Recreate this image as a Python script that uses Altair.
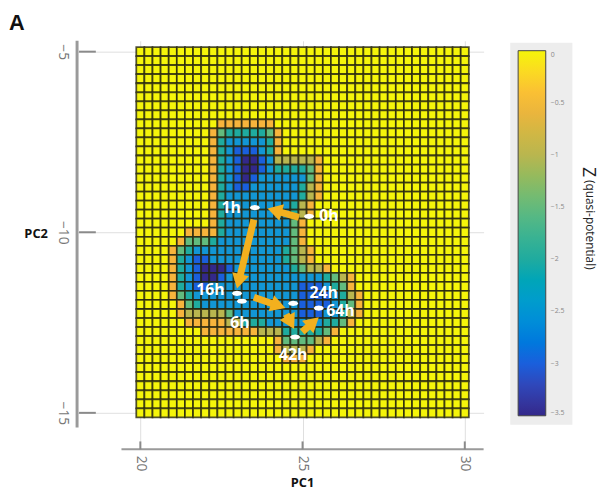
import math
import altair as alt
import pandas as pd

# ---------------- data ----------------
STEP = 0.25
PC1_GRID = [20 + STEP * i for i in range(41)]          # cell centres 20 .. 30
PC2_GRID = [-5 - STEP * j for j in range(41)]          # cell centres -5 .. -15
LEVEL_Z = [0, -0.5, -1, -1.5, -2, -2.5, -3, -3.5]      # digit in the map -> Z

# quasi-potential well, row index (from top) -> (first column, digits)
WELL_ROWS = {
    8: (10, "1111111"),
    9: (9, "1" "3" "44444" "3" "1"),
    10: (9, "1" "4" "55555" "4" "1"),
    11: (9, "1" "4" "5" "666" "5" "4" "1"),
    12: (9, "1" "4" "5" "6" "77" "6" "5" "22222" "1"),
    13: (9, "1" "4" "5" "6" "77" "6" "5" "4444" "3" "1"),
    14: (9, "1" "4" "5" "6" "7" "6" "55" "5555" "3" "1"),
    15: (9, "1" "4" "5" "66" "555555" "4" "2" "1"),
    16: (9, "1" "4" "555555555" "4" "2" "1"),
    17: (9, "1" "4" "55555555" "4" "2" "1"),
    18: (9, "1" "4" "55555555" "4" "2" "1"),
    19: (9, "1" "4" "55555555" "3" "1"),
    20: (6, "1111" "4" "55555555" "3" "1"),
    21: (5, "1" "333" "4" "555555555" "3" "1"),
    22: (4, "1" "3" "4" "55555555555" "4" "3" "2" "1"),
    23: (4, "1" "4" "5" "66" "555555555" "4" "3" "2" "1"),
    24: (4, "1" "4" "5" "6" "777" "6" "5555555" "4" "3" "22" "1"),
    25: (4, "1" "4" "5" "6" "77" "6" "555555555555" "4" "3" "2" "1"),
    26: (4, "1" "4" "5" "66" "55555555555" "666" "5" "4" "3" "1"),
    27: (4, "1" "3" "4" "5555555555555" "6666" "5" "4" "2" "1"),
    28: (5, "1" "3" "4" "555555555555" "6666" "5" "4" "3" "1"),
    29: (5, "1" "22222" "3" "55555555" "666" "55" "4" "2" "1"),
    30: (6, "11111" "22" "444" "5555555" "44" "3" "1"),
    31: (8, "1111111" "222" "44444" "3" "1"),
    32: (17, "1" "3333" "2" "1"),
    33: (17, "1" "222" "1"),
    34: (18, "111"),
}

TIMES = ["0h", "1h", "6h", "16h", "24h", "42h", "64h"]
TIME_PC1 = [25.20, 23.53, 23.13, 22.98, 24.71, 24.77, 25.50]
TIME_PC2 = [-9.56, -9.32, -11.91, -11.69, -11.97, -12.90, -12.10]
LABEL_PC1 = [25.81, 22.80, 23.07, 22.16, 25.65, 24.71, 26.17]
LABEL_PC2 = [-9.56, -9.34, -12.51, -11.61, -11.67, -13.39, -12.19]

ARROW_TAIL_PC1 = [24.89, 23.50, 23.50, 24.50, 24.99]
ARROW_TAIL_PC2 = [-9.59, -9.65, -11.80, -12.27, -12.76]
ARROW_TIP_PC1 = [23.92, 22.98, 24.47, 24.74, 25.50]
ARROW_TIP_PC2 = [-9.34, -11.56, -12.10, -12.68, -12.35]

X_TICKS = [20, 25, 30]
Y_TICKS = [-5, -10, -15]
LEGEND_VALUES = [0, -0.5, -1, -1.5, -2, -2.5, -3, -3.5]

# ---------------- styling ----------------
W, H = 412, 414
X_DOMAIN = [18.05, 30.58]
Y_DOMAIN = [-16.01, -4.70]
Z_COLORS = ["#33288a", "#1a5fdc", "#1296d4", "#1fab9f",
            "#62bb7e", "#b9b64f", "#f7b43c", "#f5f50a"]
Z_STOPS = [-3.5, -3, -2.5, -2, -1.5, -1, -0.5, 0]
ARROW_COLOR = "#f2b01e"
FONT = "Open Sans"

# ---------------- tables ----------------
cells = []
for j, pc2 in enumerate(PC2_GRID):
    start, digits = WELL_ROWS.get(j, (0, ""))
    for i, pc1 in enumerate(PC1_GRID):
        k = i - start
        lvl = int(digits[k]) if 0 <= k < len(digits) else 0
        cells.append({"x1": pc1 - STEP / 2, "x2": pc1 + STEP / 2,
                      "y1": pc2 + STEP / 2, "y2": pc2 - STEP / 2,
                      "z": LEVEL_Z[lvl]})
cells = pd.DataFrame(cells)

pts = pd.DataFrame({"t": TIMES, "pc1": TIME_PC1, "pc2": TIME_PC2,
                    "lx": LABEL_PC1, "ly": LABEL_PC2})

KX = W / (X_DOMAIN[1] - X_DOMAIN[0])
KY = H / (Y_DOMAIN[1] - Y_DOMAIN[0])
HEAD_SIZE = 300
HEAD_HALF = math.sqrt(HEAD_SIZE) * math.sqrt(3) / 4
arrows = []
for tx, ty, hx, hy in zip(ARROW_TAIL_PC1, ARROW_TAIL_PC2, ARROW_TIP_PC1, ARROW_TIP_PC2):
    dx = (hx - tx) * KX
    dy = -(hy - ty) * KY
    L = math.hypot(dx, dy)
    ux, uy = dx / L, dy / L
    cx = hx - ux * HEAD_HALF / KX
    cy = hy + uy * HEAD_HALF / KY
    ang = math.degrees(math.atan2(ux, -uy)) % 360
    arrows.append({"x1": tx, "y1": ty, "x2": cx, "y2": cy, "ang": ang})
arrows = pd.DataFrame(arrows)

xs = alt.Scale(domain=X_DOMAIN, nice=False, zero=False)
ys = alt.Scale(domain=Y_DOMAIN, nice=False, zero=False)

AX_X = alt.Axis(values=X_TICKS, labelAngle=90, labelAlign="left", labelBaseline="middle",
                labelPadding=6, labelFont=FONT, labelFontSize=14, labelColor="#777777",
                ticks=False, domain=False, grid=True, gridColor="#dedede", gridWidth=1,
                title="PC1", titleFont=FONT, titleFontSize=13, titleFontWeight="bold",
                titleColor="#111111", titleX=228, titleY=34, titleAlign="center",
                titleBaseline="middle", titleAngle=0)
AX_Y = alt.Axis(values=Y_TICKS, labelAngle=90, labelAlign="center", labelBaseline="top",
                labelPadding=8, labelFont=FONT, labelFontSize=14, labelColor="#777777",
                ticks=False, domain=False, grid=True, gridColor="#dedede", gridWidth=1,
                title="PC2", titleFont=FONT, titleFontSize=13, titleFontWeight="bold",
                titleColor="#111111", titleX=-42, titleY=195, titleAlign="center",
                titleBaseline="middle", titleAngle=0)

one = pd.DataFrame({"k": [0]})

heat = alt.Chart(cells).mark_rect(stroke="#262610", strokeWidth=1.8, strokeOpacity=0.8).encode(
    x=alt.X("x1:Q", scale=xs, axis=AX_X),
    x2="x2:Q",
    y=alt.Y("y1:Q", scale=ys, axis=AX_Y),
    y2="y2:Q",
    color=alt.Color("z:Q", scale=alt.Scale(domain=Z_STOPS, range=Z_COLORS),
                    legend=alt.Legend(orient="none", legendX=439, legendY=2,
                                      direction="vertical", gradientLength=370,
                                      gradientThickness=28, fillColor="#ededed",
                                      padding=8, values=LEGEND_VALUES, format=".1~f",
                                      labelFont=FONT, labelFontSize=7,
                                      labelColor="#888888", labelOffset=5,
                                      gradientStrokeColor="#444444",
                                      gradientStrokeWidth=1, title=None)),
)

y_line = alt.Chart(one).mark_rule(color="#9a9a9a", strokeWidth=3).encode(
    x=alt.value(0), y=alt.value(0), y2=alt.value(392))
x_line = alt.Chart(one).mark_rule(color="#9a9a9a", strokeWidth=2).encode(
    y=alt.value(414), x=alt.value(45), x2=alt.value(412))
y_ticks = alt.Chart(pd.DataFrame({"v": Y_TICKS})).mark_rule(color="#8a8a8a", strokeWidth=2).encode(
    y=alt.Y("v:Q", scale=ys, axis=AX_Y), x=alt.value(2), x2=alt.value(19))
x_ticks = alt.Chart(pd.DataFrame({"v": X_TICKS})).mark_rule(color="#8a8a8a", strokeWidth=2).encode(
    x=alt.X("v:Q", scale=xs, axis=AX_X), y=alt.value(406), y2=alt.value(414))

ELLIPSE = "M-1,0 L-0.7,-0.36 L0,-0.5 L0.7,-0.36 L1,0 L0.7,0.36 L0,0.5 L-0.7,0.36 Z"
dots = alt.Chart(pts).mark_point(shape=ELLIPSE, filled=True, color="white",
                                 size=110, opacity=1).encode(
    x=alt.X("pc1:Q", scale=xs, axis=AX_X), y=alt.Y("pc2:Q", scale=ys, axis=AX_Y))

shafts = alt.Chart(arrows).mark_rule(color=ARROW_COLOR, strokeWidth=7).encode(
    x=alt.X("x1:Q", scale=xs, axis=AX_X), x2="x2:Q",
    y=alt.Y("y1:Q", scale=ys, axis=AX_Y), y2="y2:Q")
heads = alt.Chart(arrows).mark_point(shape="triangle-up", filled=True, color=ARROW_COLOR,
                                     size=HEAD_SIZE, opacity=1).encode(
    x=alt.X("x2:Q", scale=xs, axis=AX_X), y=alt.Y("y2:Q", scale=ys, axis=AX_Y),
    angle=alt.Angle("ang:Q", scale=None))

labels = alt.Chart(pts).mark_text(color="white", font=FONT, fontSize=16, fontWeight="bold",
                                  align="center", baseline="middle").encode(
    x=alt.X("lx:Q", scale=xs, axis=AX_X), y=alt.Y("ly:Q", scale=ys, axis=AX_Y), text="t:N")

panel = alt.Chart(one).mark_text(text="A", font="Liberation Sans", fontSize=22,
                                 fontWeight="bold", color="#111111",
                                 align="center", baseline="middle").encode(
    x=alt.value(-61), y=alt.value(-18))
z_big = alt.Chart(one).mark_text(text="Z", font=FONT, fontSize=18, color="#222222",
                                 angle=90, align="center", baseline="middle").encode(
    x=alt.value(518), y=alt.value(133))
z_small = alt.Chart(one).mark_text(text="(quasi-potential)", font=FONT, fontSize=12,
                                   color="#222222", angle=90, align="left",
                                   baseline="middle").encode(
    x=alt.value(520), y=alt.value(141))

chart = alt.layer(heat, y_line, x_line, y_ticks, x_ticks, shafts, heads, dots, labels,
                  panel, z_big, z_small).properties(
    width=W, height=H,
    padding={"left": 70, "top": 30, "right": 120, "bottom": 41},
    autosize=alt.AutoSizeParams(type="none"),
).configure_view(strokeWidth=0)

chart.save("out.html", embed_options={"renderer": "svg", "actions": False})
